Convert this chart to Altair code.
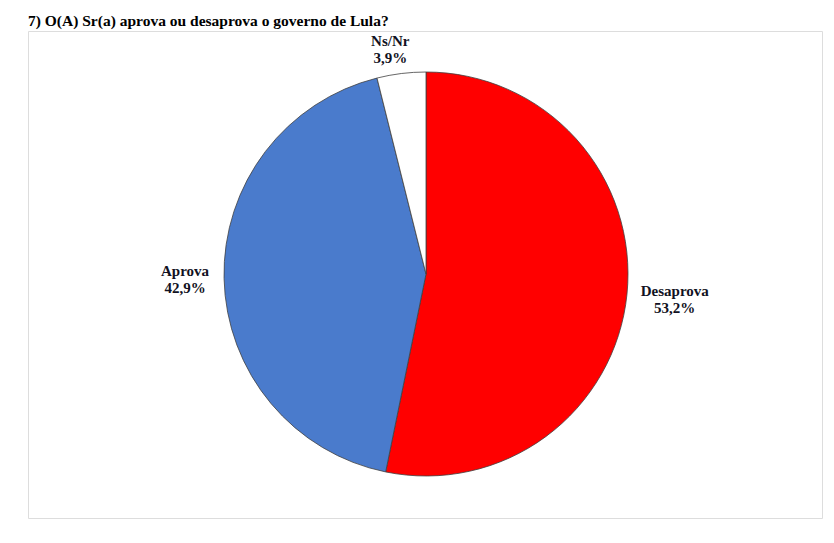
import altair as alt
import pandas as pd

categorias = ["Desaprova", "Aprova", "Ns/Nr"]
valores = [53.2, 42.9, 3.9]
cores = ["#FF0000", "#4A7BCC", "#FFFFFF"]
titulo = "7) O(A) Sr(a) aprova ou desaprova o governo de Lula?"

FONT = "'Liberation Serif', 'Times New Roman', Times, serif"

df = pd.DataFrame({
    "cat": categorias,
    "valor": valores,
    "ordem": list(range(len(categorias))),
    "label": [f"{c}\n{str(v).replace('.', ',')}%" for c, v in zip(categorias, valores)],
})

base = alt.Chart(df)

pie = base.mark_arc(outerRadius=202, stroke="#404040", strokeWidth=0.8).encode(
    theta=alt.Theta("valor:Q", stack=True),
    order=alt.Order("ordem:Q"),
    color=alt.Color("cat:N", scale=alt.Scale(domain=categorias, range=cores), legend=None),
    x=alt.value(398),
    y=alt.value(243),
)

label_radius = {"Desaprova": 250, "Aprova": 241, "Ns/Nr": 227}
label_dx = {"Desaprova": 0, "Aprova": 0, "Ns/Nr": -8}

layers = [pie]
for c in categorias:
    t = base.transform_calculate(
        lbl=f"datum.cat == '{c}' ? datum.label : ''"
    ).mark_text(
        font=FONT, fontSize=15, fontWeight="bold", color="#111122",
        lineBreak="\n", lineHeight=17, align="center", baseline="middle",
        radius=label_radius[c], dx=label_dx[c], dy=-8,
    ).encode(
        theta=alt.Theta("valor:Q", stack=True),
        order=alt.Order("ordem:Q"),
        text="lbl:N",
        x=alt.value(398),
        y=alt.value(243),
    )
    layers.append(t)

title_df = pd.DataFrame({"t": [titulo]})
title_mark = alt.Chart(title_df).mark_text(
    font=FONT, fontSize=15.5, fontWeight="bold", color="#000000",
    align="left", baseline="alphabetic",
).encode(text="t:N", x=alt.value(0), y=alt.value(-5))
layers.append(title_mark)

chart = alt.layer(*layers).properties(
    width=794,
    height=487,
    padding={"left": 20, "top": 23, "right": 4, "bottom": 4},
    autosize="none",
).configure_view(stroke="#D9D9D9", strokeWidth=1.5).configure(background="white")

chart.save("out.html", embed_options={"renderer": "svg", "actions": False})
